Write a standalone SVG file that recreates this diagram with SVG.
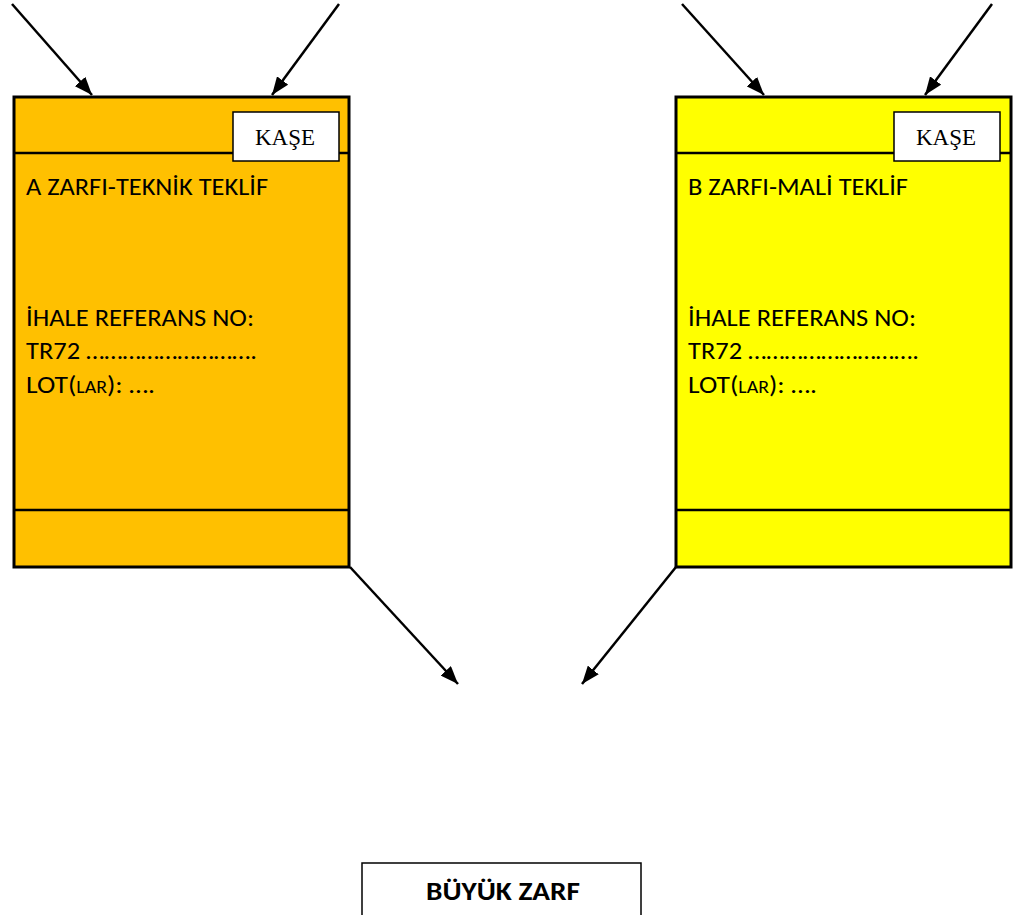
<svg xmlns="http://www.w3.org/2000/svg" width="1016" height="915" viewBox="0 0 1016 915">
<defs>
<marker id="ah" viewBox="0 0 18 14" refX="18" refY="7" markerWidth="18" markerHeight="14" markerUnits="userSpaceOnUse" orient="auto">
<path d="M0,0 L18,7 L0,14 Z" fill="#000"/>
</marker>
<style>
.env{stroke:#000;stroke-width:3}
.band{stroke:#000;stroke-width:2.5;fill:none}
.kase{fill:#fff;stroke:#000;stroke-width:1.5}
.kt{font-family:"Liberation Serif","Times New Roman",serif;font-size:23px;fill:#000;text-anchor:middle}
.t{font-family:Carlito,"Liberation Sans",Arial,sans-serif;font-size:25px;fill:#000}
.sm{font-size:18px}
.b{font-family:Carlito,"Liberation Sans",Arial,sans-serif;font-size:27px;font-weight:bold;fill:#000;text-anchor:middle}
.c{stroke:#000;stroke-width:2.5;fill:none;marker-end:url(#ah)}
</style>
</defs>
<rect width="1016" height="915" fill="#fff"/>

<g id="zarf-a">
<rect class="env" x="14" y="97" width="335" height="470" fill="#FFC000"/>
<line class="band" x1="14" y1="153" x2="349" y2="153"/>
<line class="band" x1="14" y1="510" x2="349" y2="510"/>
<rect class="kase" x="233" y="112" width="106" height="49"/>
<text class="kt" x="285" y="145" textLength="60" lengthAdjust="spacingAndGlyphs">KAŞE</text>
<text class="t" x="26" y="195" textLength="242" lengthAdjust="spacingAndGlyphs">A ZARFI-TEKNİK TEKLİF</text>
<text class="t" x="26" y="326" textLength="228" lengthAdjust="spacingAndGlyphs">İHALE REFERANS NO:</text>
<text class="t" x="26" y="359" textLength="231" lengthAdjust="spacingAndGlyphs">TR72 ……………………….</text>
<text class="t" x="26" y="393" textLength="129" lengthAdjust="spacingAndGlyphs">LOT(<tspan class="sm">LAR</tspan>): ….</text>
</g>

<g id="zarf-b">
<rect class="env" x="676" y="97" width="335" height="470" fill="#FFFF00"/>
<line class="band" x1="676" y1="153" x2="1011" y2="153"/>
<line class="band" x1="676" y1="510" x2="1011" y2="510"/>
<rect class="kase" x="894" y="112" width="106" height="49"/>
<text class="kt" x="946" y="145" textLength="60" lengthAdjust="spacingAndGlyphs">KAŞE</text>
<text class="t" x="688" y="195" textLength="220" lengthAdjust="spacingAndGlyphs">B ZARFI-MALİ TEKLİF</text>
<text class="t" x="688" y="326" textLength="228" lengthAdjust="spacingAndGlyphs">İHALE REFERANS NO:</text>
<text class="t" x="688" y="359" textLength="231" lengthAdjust="spacingAndGlyphs">TR72 ……………………….</text>
<text class="t" x="688" y="393" textLength="129" lengthAdjust="spacingAndGlyphs">LOT(<tspan class="sm">LAR</tspan>): ….</text>
</g>

<g id="buyuk-zarf">
<rect x="362" y="863" width="279" height="70" fill="#fff" stroke="#000" stroke-width="1.5"/>
<text class="b" x="503" y="900" textLength="154" lengthAdjust="spacingAndGlyphs">BÜYÜK ZARF</text>
</g>

<g id="connectors">
<line class="c" x1="12" y1="4" x2="92" y2="95"/>
<line class="c" x1="339" y1="4" x2="272" y2="95"/>
<line class="c" x1="682" y1="4" x2="764" y2="95"/>
<line class="c" x1="992" y1="4" x2="925" y2="95"/>
<line class="c" x1="350" y1="567" x2="458" y2="684"/>
<line class="c" x1="676" y1="567" x2="582" y2="684"/>
</g>
</svg>
